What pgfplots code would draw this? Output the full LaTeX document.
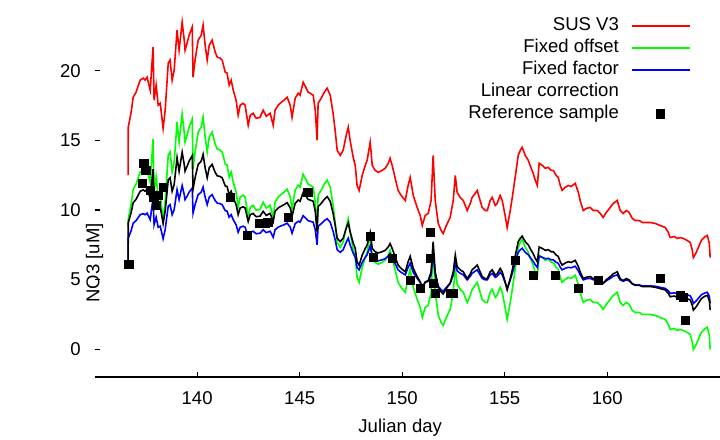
\documentclass[border=0pt]{standalone}
\usepackage{fontspec}
\setmainfont{Liberation Sans}
\usepackage{pgfplots}
\usepackage{pgfplotstable}
\pgfplotsset{compat=1.18}

\pgfplotstableread{
d sus off fac lin
136.63 12.50 8.80 6.30 6.00
136.64 15.94 9.34 7.97 9.08
136.78 17.01 10.41 8.51 9.80
136.88 18.09 11.49 9.05 10.52
137.02 18.45 11.85 9.23 10.76
137.22 19.32 12.72 9.66 11.34
137.37 19.46 12.86 9.73 11.44
137.46 19.32 12.72 9.66 11.34
137.56 19.53 12.93 9.77 11.49
137.71 18.60 12.00 9.30 10.86
137.85 21.69 15.09 10.85 12.93
137.90 17.88 11.28 8.94 10.38
138.00 18.96 12.36 9.48 11.10
138.10 17.52 10.92 8.76 10.14
138.20 17.66 11.06 8.83 10.23
138.34 15.86 9.26 7.93 9.03
138.44 17.16 10.56 8.58 9.90
138.59 20.54 13.94 10.27 12.16
138.68 20.76 14.16 10.38 12.31
138.78 19.32 12.72 9.66 11.34
138.88 20.04 13.44 10.02 11.83
139.02 22.91 16.31 11.46 13.75
139.12 21.47 14.87 10.74 12.78
139.27 23.49 16.89 11.75 14.14
139.37 22.19 15.59 11.10 13.27
139.41 21.47 14.87 10.74 12.78
139.51 21.98 15.38 10.99 13.13
139.61 22.55 15.95 11.28 13.51
139.76 23.13 16.53 11.57 13.90
139.80 19.53 12.93 9.77 11.49
139.90 20.76 14.16 10.38 12.31
140.05 22.19 15.59 11.10 13.27
140.20 22.55 15.95 11.28 13.51
140.29 23.27 16.67 11.64 13.99
140.39 21.83 15.23 10.92 13.03
140.49 20.76 14.16 10.38 12.31
140.59 21.83 15.23 10.92 13.03
140.73 22.19 15.59 11.10 13.27
140.88 21.33 14.73 10.67 12.69
140.98 20.97 14.37 10.49 12.45
141.12 20.90 14.30 10.45 12.40
141.22 20.76 14.16 10.38 12.31
141.37 19.89 13.29 9.95 11.73
141.46 19.82 13.22 9.91 11.68
141.56 18.96 12.36 9.48 11.10
141.66 19.32 12.72 9.66 11.34
141.76 18.60 12.00 9.30 10.86
141.90 17.88 11.28 8.94 10.38
142.00 16.80 10.20 8.40 9.66
142.10 17.52 10.92 8.76 10.14
142.24 17.66 11.06 8.83 10.23
142.34 17.52 10.92 8.76 10.14
142.49 16.08 9.48 8.04 9.17
142.59 16.80 10.20 8.40 9.66
142.73 16.94 10.34 8.47 9.75
142.88 16.58 9.98 8.29 9.51
143.07 16.65 10.05 8.33 9.56
143.22 17.16 10.56 8.58 9.90
143.37 16.73 10.13 8.37 9.61
143.56 16.94 10.34 8.47 9.75
143.71 16.08 9.48 8.04 9.17
143.80 17.16 10.56 8.58 9.90
143.95 17.52 10.92 8.76 10.14
144.05 17.66 11.06 8.83 10.23
144.24 17.88 11.28 8.94 10.38
144.39 18.09 11.49 9.05 10.52
144.54 17.52 10.92 8.76 10.14
144.63 16.65 10.05 8.33 9.56
144.78 18.02 11.42 9.01 10.47
144.93 18.38 11.78 9.19 10.71
145.02 18.24 11.64 9.12 10.62
145.17 19.17 12.57 9.59 11.24
145.32 18.74 12.14 9.37 10.96
145.41 18.45 11.85 9.23 10.76
145.51 18.38 11.78 9.19 10.71
145.66 18.24 11.64 9.12 10.62
145.76 17.16 10.56 8.58 9.90
145.85 15.00 8.40 7.50 8.45
145.90 17.66 11.06 8.83 10.23
146.05 18.02 11.42 9.01 10.47
146.20 18.45 11.85 9.23 10.76
146.34 18.74 12.14 9.37 10.96
146.49 18.24 11.64 9.12 10.62
146.63 16.94 10.34 8.47 9.75
146.73 15.72 9.12 7.86 8.93
146.83 14.28 7.68 7.14 7.97
146.98 13.92 7.32 6.96 7.73
147.12 14.28 7.68 7.14 7.97
147.27 15.36 8.76 7.68 8.69
147.37 15.94 9.34 7.97 9.08
147.46 15.00 8.40 7.50 8.45
147.61 13.78 7.18 6.89 7.63
147.71 13.20 6.60 6.60 7.24
147.80 11.76 5.16 5.88 6.28
147.90 11.40 4.80 5.70 6.04
148.05 12.48 5.88 6.24 6.76
148.20 13.20 6.60 6.60 7.24
148.29 13.56 6.96 6.78 7.49
148.44 14.86 8.26 7.43 8.36
148.54 13.20 6.60 6.60 7.24
148.68 12.84 6.24 6.42 7.00
148.83 12.70 6.10 6.35 6.91
149.02 12.84 6.24 6.42 7.00
149.17 12.99 6.39 6.50 7.10
149.32 13.35 6.75 6.68 7.34
149.41 13.71 7.11 6.86 7.59
149.51 13.20 6.60 6.60 7.24
149.66 12.27 5.67 6.14 6.62
149.80 11.40 4.80 5.70 6.04
149.95 11.04 4.44 5.52 5.80
150.15 10.68 4.08 5.34 5.56
150.29 11.76 5.16 5.88 6.28
150.39 12.34 5.74 6.17 6.67
150.54 11.04 4.44 5.52 5.80
150.73 10.18 3.58 5.09 5.22
150.88 9.60 3.00 4.80 4.83
150.98 8.88 2.28 4.44 4.35
151.12 9.60 3.00 4.80 4.83
151.27 9.75 3.15 4.88 4.93
151.41 10.68 4.08 5.34 5.56
151.51 13.92 7.32 6.96 7.73
151.61 10.68 4.08 5.34 5.56
151.76 9.03 2.43 4.52 4.45
151.90 8.53 1.93 4.27 4.12
152.00 8.31 1.71 4.16 3.97
152.15 8.88 2.28 4.44 4.35
152.34 9.46 2.86 4.73 4.74
152.49 10.68 4.08 5.34 5.56
152.59 12.48 5.88 6.24 6.76
152.68 11.26 4.66 5.63 5.94
152.83 10.90 4.30 5.45 5.70
152.98 10.68 4.08 5.34 5.56
153.17 9.96 3.36 4.98 5.07
153.32 10.47 3.87 5.24 5.41
153.41 10.90 4.30 5.45 5.70
153.56 11.19 4.59 5.60 5.90
153.66 11.40 4.80 5.70 6.04
153.80 10.68 4.08 5.34 5.56
153.90 10.18 3.58 5.09 5.22
154.05 9.96 3.36 4.98 5.07
154.15 9.96 3.36 4.98 5.07
154.29 10.68 4.08 5.34 5.56
154.39 10.90 4.30 5.45 5.70
154.54 10.32 3.72 5.16 5.31
154.63 10.47 3.87 5.24 5.41
154.78 11.04 4.44 5.52 5.80
154.88 10.68 4.08 5.34 5.56
155.02 9.60 3.00 4.80 4.83
155.12 8.74 2.14 4.37 4.26
155.27 9.96 3.36 4.98 5.07
155.37 10.90 4.30 5.45 5.70
155.51 12.34 5.74 6.17 6.67
155.66 13.92 7.32 6.96 7.73
155.76 14.28 7.68 7.14 7.97
155.85 14.50 7.90 7.25 8.12
156.00 13.92 7.32 6.96 7.73
156.15 13.56 6.96 6.78 7.49
156.29 12.99 6.39 6.50 7.10
156.39 12.63 6.03 6.32 6.86
156.49 12.12 5.52 6.06 6.52
156.59 11.76 5.16 5.88 6.28
156.68 13.35 6.75 6.68 7.34
156.83 13.20 6.60 6.60 7.24
156.98 12.99 6.39 6.50 7.10
157.12 13.06 6.46 6.53 7.15
157.27 12.84 6.24 6.42 7.00
157.37 12.84 6.24 6.42 7.00
157.51 12.48 5.88 6.24 6.76
157.61 12.34 5.74 6.17 6.67
157.71 11.76 5.16 5.88 6.28
157.80 11.40 4.80 5.70 6.04
157.95 11.62 5.02 5.81 6.19
158.10 11.76 5.16 5.88 6.28
158.24 11.69 5.09 5.85 6.23
158.44 11.91 5.31 5.96 6.38
158.59 11.26 4.66 5.63 5.94
158.68 10.68 4.08 5.34 5.56
158.83 9.96 3.36 4.98 5.07
158.98 10.11 3.51 5.06 5.17
159.17 10.18 3.58 5.09 5.22
159.32 9.96 3.36 4.98 5.07
159.51 9.96 3.36 4.98 5.07
159.66 9.75 3.15 4.88 4.93
159.80 9.46 2.86 4.73 4.74
159.95 9.82 3.22 4.91 4.98
160.15 10.18 3.58 5.09 5.22
160.29 10.47 3.87 5.24 5.41
160.49 10.68 4.08 5.34 5.56
160.63 9.96 3.36 4.98 5.07
160.78 9.75 3.15 4.88 4.93
160.93 9.96 3.36 4.98 5.07
161.07 9.82 3.22 4.91 4.98
161.22 9.39 2.79 4.70 4.69
161.37 9.24 2.64 4.62 4.59
161.56 9.24 2.64 4.62 4.59
161.71 9.10 2.50 4.55 4.50
161.90 9.10 2.50 4.55 4.50
162.10 9.10 2.50 4.55 4.50
162.34 9.03 2.43 4.52 4.45
162.59 8.88 2.28 4.44 4.35
162.83 8.74 2.14 4.37 4.26
162.98 8.38 1.78 4.19 4.01
163.07 8.02 1.42 4.01 3.77
163.27 8.09 1.49 4.05 3.82
163.41 7.95 1.35 3.98 3.73
163.56 8.02 1.42 4.01 3.77
163.71 7.95 1.35 3.98 3.73
163.90 7.81 1.21 3.91 3.63
164.05 7.66 1.06 3.83 3.53
164.15 7.09 0.49 3.55 3.15
164.20 6.58 -0.02 3.29 2.81
164.34 6.94 0.34 3.47 3.05
164.44 7.30 0.70 3.65 3.29
164.59 7.81 1.21 3.91 3.63
164.68 7.95 1.35 3.98 3.73
164.78 8.09 1.49 4.05 3.82
164.88 8.17 1.57 4.09 3.87
164.98 7.59 0.99 3.80 3.49
165.02 6.58 -0.02 3.29 2.81
}\series

\pgfplotstableread{
d v
136.68 6.08
137.32 11.91
137.41 13.35
137.51 12.84
137.71 11.40
137.90 10.90
138.00 10.32
138.10 11.04
138.34 11.62
141.61 10.90
142.44 8.17
143.07 9.03
143.32 9.03
143.46 9.10
144.44 9.46
145.41 11.26
148.44 8.09
148.59 6.58
149.51 6.51
150.39 4.93
150.88 4.35
151.37 8.38
151.37 6.51
151.51 4.71
151.61 3.99
152.34 3.99
152.49 3.99
155.51 6.37
156.39 5.29
157.46 5.29
158.59 4.35
159.56 4.93
162.59 5.07
163.56 3.85
163.71 3.71
163.80 2.05
}\samples

\begin{document}
\begin{tikzpicture}[font=\fontsize{9.3}{11}\selectfont]
\useasboundingbox (-47.3bp,-31bp) rectangle (312.6bp,188.5bp);
\begin{axis}[
  at={(0,0)}, anchor=south west,
  scale only axis, width=312.6bp, height=188bp,
  xmin=135, xmax=165.5, ymin=-2, ymax=25,
  axis x line*=bottom, axis y line*=left,
  x axis line style={-, line width=0.8pt},
  y axis line style={draw=none},
  xtick={140,145,150,155,160},
  ytick={0,5,10,15,20},
  major tick length=2.5bp,
  tick style={black, line width=0.6pt},
  /pgf/number format/assume math mode=true,
  /pgf/number format/1000 sep={},
  xticklabel style={inner sep=0pt, yshift=-7bp},
  yticklabel style={inner sep=0pt, xshift=-6.8bp},
  xlabel={Julian day},
  ylabel={NO3 [uM]},
  xlabel style={at={(axis description cs:0.4886,0)}, anchor=center, yshift=-25.5bp},
  ylabel style={at={(axis description cs:0,0.489)}, anchor=center, rotate=0, xshift=-34.8bp},
  legend plot pos=right,
  legend cell align=right,
  legend image code/.code={\draw[mark repeat=2,mark phase=2,#1] plot coordinates {(0bp,0bp) (14.5bp,0bp) (29bp,0bp)};},
  legend style={draw=none, fill=none, at={(axis description cs:0.963,0.975)}, anchor=north east,
    row sep=0pt, column sep=5bp,
    nodes={inner sep=1pt, text height=7bp, text depth=2bp}},
]
\addplot[red, line width=0.8pt] table[x=d, y=sus] {\series};
\addlegendentry{SUS V3}
\addplot[green, line width=0.8pt] table[x=d, y=off] {\series};
\addlegendentry{Fixed offset}
\addplot[blue, line width=0.8pt] table[x=d, y=fac] {\series};
\addlegendentry{Fixed factor}
\addplot[black, line width=0.8pt, forget plot] table[x=d, y=lin] {\series};
\addlegendimage{white, draw opacity=0}
\addlegendentry{Linear correction}
\addplot[only marks, mark=square*, mark size=2.1bp, black] table[x=d, y=v] {\samples};
\addlegendentry{Reference sample}
\end{axis}
\end{tikzpicture}
\end{document}
